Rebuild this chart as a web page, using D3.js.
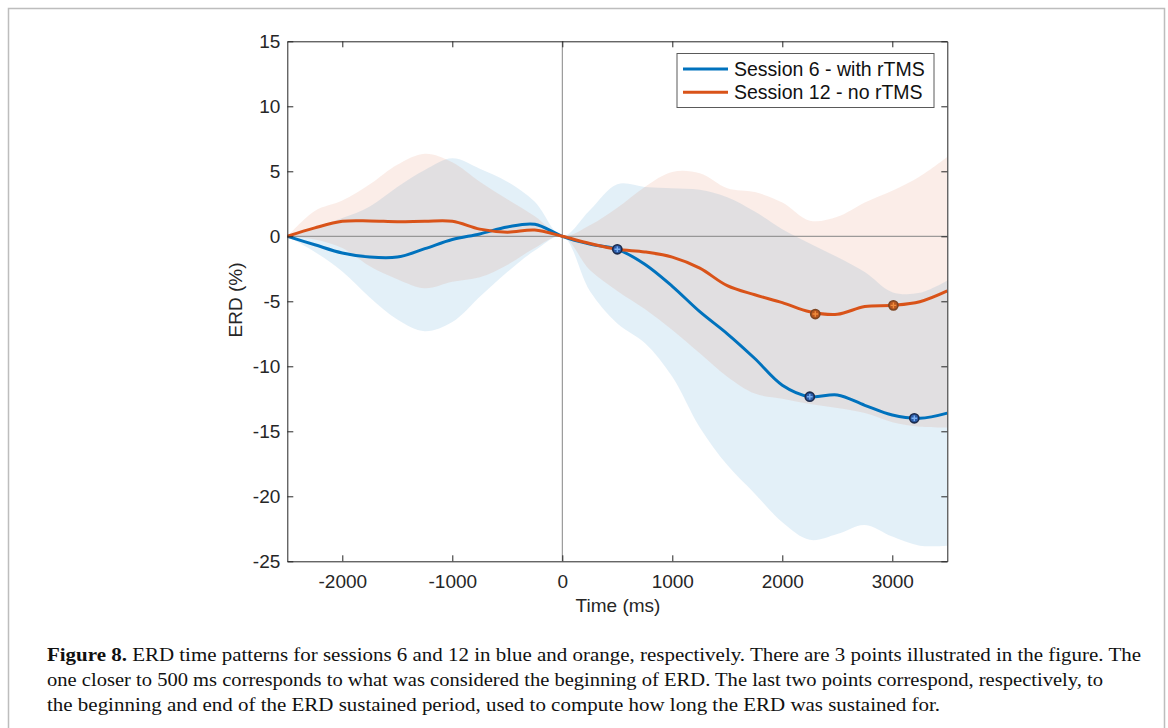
<!DOCTYPE html>
<html>
<head>
<meta charset="utf-8">
<script src="https://cdn.jsdelivr.net/npm/d3@7"></script>
<style>
html,body{margin:0;padding:0;background:#fff;}
svg{display:block;}
</style>
</head>
<body>
<svg id="chart" width="1168" height="728"></svg>
<script>
// ---- data ----
const time = [-2500,-2250,-2000,-1750,-1500,-1250,-1000,-750,-500,-250,0,250,500,750,1000,1250,1500,1750,2000,2250,2500,2750,3000,3250,3500];

const s6Mean  = [0,-0.65,-1.28,-1.6,-1.6,-0.95,-0.25,0.18,0.72,0.93,0,-0.6,-1.0,-2.15,-3.85,-5.8,-7.5,-9.4,-11.45,-12.34,-12.2,-13.0,-13.75,-14.0,-13.6];
const s6Upper = [0,0.7,1.4,2.3,3.8,5.1,6.0,5.2,4.2,2.65,0,2.0,4.0,3.8,3.7,3.58,3.0,1.9,0.55,-0.55,-1.6,-2.75,-4.3,-4.35,-3.4];
const s6Lower = [0,-1.2,-2.7,-4.7,-6.4,-7.3,-6.6,-4.65,-2.75,-1.1,0,-4.2,-6.7,-8.2,-10.8,-14.7,-17.6,-19.8,-22.0,-23.35,-22.9,-22.2,-23.1,-23.8,-23.8];

const s12Mean  = [0,0.65,1.15,1.18,1.12,1.15,1.15,0.55,0.32,0.48,0,-0.55,-1.0,-1.2,-1.6,-2.45,-3.8,-4.5,-5.1,-5.8,-6.0,-5.4,-5.31,-5.03,-4.2];
const s12Upper = [0,1.95,2.75,4.0,5.5,6.35,5.7,4.2,2.85,1.55,0,0.85,2.2,3.8,4.95,4.85,3.7,3.4,2.6,1.2,1.5,2.6,3.5,4.6,6.1];
const s12Lower = [0,-0.25,-0.9,-2.3,-3.3,-4.0,-3.5,-3.15,-2.2,-0.9,0,-2.6,-4.2,-5.6,-7.2,-9.0,-10.8,-12.1,-12.5,-12.9,-13.2,-13.6,-14.3,-14.65,-14.7];

const s6MarkT  = [500, 2250, 3200];
const s6MarkV  = [-1.0, -12.34, -14.0];
const s12MarkT = [2300, 3010];
const s12MarkV = [-5.98, -5.31];

const xTicks = [-2000,-1000,0,1000,2000,3000];
const yTicks = [-25,-20,-15,-10,-5,0,5,10,15];
const seriesNames = ["Session 6 - with rTMS", "Session 12 - no rTMS"];
const captionBold = "Figure 8.";
const captionLines = [
  " ERD time patterns for sessions 6 and 12 in blue and orange, respectively. There are 3 points illustrated in the figure. The",
  "one closer to 500 ms corresponds to what was considered the beginning of ERD. The last two points correspond, respectively, to",
  "the beginning and end of the ERD sustained period, used to compute how long the ERD was sustained for."
];

// ---- layout ----
const svg = d3.select("#chart");
const L = 287.3, R = 947.3, T = 41.3, B = 561.3;
const blue = "#0072BD", orange = "#D95319";
const x = d3.scaleLinear().domain([-2500, 3500]).range([L, R]);
const y = d3.scaleLinear().domain([-25, 15]).range([B, T]);
const fontSans = "'Liberation Sans', Arial, Helvetica, sans-serif";

// frame
svg.append("path")
  .attr("d", `M8.5,728 L8.5,8.5 L1164.5,8.5 L1164.5,728`)
  .attr("fill", "none").attr("stroke", "#bdbdbd").attr("stroke-width", 1.5);

const g = svg.append("g");
const clip = svg.append("defs").append("clipPath").attr("id", "pc");
clip.append("rect").attr("x", L).attr("y", T).attr("width", R - L).attr("height", B - T);

const plot = g.append("g").attr("clip-path", "url(#pc)");
const curve = d3.curveCatmullRom.alpha(0.5);

const area = (up, lo) => d3.area().x((d, i) => x(time[i])).y0((d, i) => y(lo[i])).y1((d, i) => y(up[i])).curve(curve)(time);
const line = (vals) => d3.line().x((d, i) => x(time[i])).y((d, i) => y(vals[i])).curve(curve)(time);

plot.append("path").attr("d", area(s6Upper, s6Lower)).attr("fill", blue).attr("fill-opacity", 0.11);
plot.append("path").attr("d", area(s12Upper, s12Lower)).attr("fill", orange).attr("fill-opacity", 0.1);

// zero lines
plot.append("line").attr("x1", L).attr("x2", R).attr("y1", y(0)).attr("y2", y(0)).attr("stroke", "#858585").attr("stroke-width", 1);
plot.append("line").attr("x1", x(0)).attr("x2", x(0)).attr("y1", T).attr("y2", B).attr("stroke", "#858585").attr("stroke-width", 1);

plot.append("path").attr("d", line(s6Mean)).attr("fill", "none").attr("stroke", blue).attr("stroke-width", 3);
plot.append("path").attr("d", line(s12Mean)).attr("fill", "none").attr("stroke", orange).attr("stroke-width", 3);

function markers(ts, vs, fill, edge, plus) {
  ts.forEach((t, i) => {
    const cx = x(t), cy = y(vs[i]);
    g.append("circle").attr("cx", cx).attr("cy", cy).attr("r", 4.6)
      .attr("fill", fill).attr("stroke", edge).attr("stroke-width", 1.6);
    g.append("path").attr("d", `M${cx-2.8},${cy}H${cx+2.8}M${cx},${cy-2.8}V${cy+2.8}`)
      .attr("stroke", plus).attr("stroke-width", 1.4);
  });
}
markers(s6MarkT, s6MarkV, "#2c5ca8", "#1c2b4c", "#79aef0");
markers(s12MarkT, s12MarkV, "#b8561e", "#7e4622", "#f08c3c");

// axes
const axCol = "#262626";
function styleAxis(sel) {
  sel.select(".domain").attr("stroke", axCol).attr("stroke-width", 1);
  sel.selectAll(".tick line").attr("stroke", axCol).attr("stroke-width", 1);
  sel.selectAll("text").attr("fill", axCol).attr("font-family", fontSans).attr("font-size", 19);
}
const xb = g.append("g").attr("transform", `translate(0,${B})`)
  .call(d3.axisBottom(x).tickValues(xTicks).tickSizeInner(-6).tickSizeOuter(0).tickPadding(13).tickFormat(d3.format("d")));
styleAxis(xb);
const xt = g.append("g").attr("transform", `translate(0,${T})`)
  .call(d3.axisTop(x).tickValues(xTicks).tickSizeInner(-6).tickSizeOuter(0).tickFormat(""));
styleAxis(xt);
const yl = g.append("g").attr("transform", `translate(${L},0)`)
  .call(d3.axisLeft(y).tickValues(yTicks).tickSizeInner(-6).tickSizeOuter(0).tickPadding(7).tickFormat(d3.format("d")));
styleAxis(yl);
const yr = g.append("g").attr("transform", `translate(${R},0)`)
  .call(d3.axisRight(y).tickValues(yTicks).tickSizeInner(-6).tickSizeOuter(0).tickFormat(""));
styleAxis(yr);
// hyphen-minus like MATLAB
g.selectAll(".tick text").text(function(){ return d3.select(this).text().replace("\u2212", "-"); });

// axis labels
g.append("text").attr("x", 618).attr("y", 612).attr("text-anchor", "middle")
  .attr("font-family", fontSans).attr("font-size", 19).attr("fill", axCol).text("Time (ms)");
g.append("text").attr("transform", "translate(242,300) rotate(-90)").attr("text-anchor", "middle")
  .attr("font-family", fontSans).attr("font-size", 19).attr("fill", axCol).text("ERD (%)");

// legend
const lg = g.append("g");
lg.append("rect").attr("x", 677).attr("y", 53.5).attr("width", 257).attr("height", 54)
  .attr("fill", "#fff").attr("stroke", "#5a5a5a").attr("stroke-width", 1);
[blue, orange].forEach((c, i) => {
  const yy = 69 + i * 23.3;
  lg.append("line").attr("x1", 683).attr("x2", 728).attr("y1", yy).attr("y2", yy).attr("stroke", c).attr("stroke-width", 3);
  lg.append("text").attr("x", 734).attr("y", yy + 6.8).attr("font-family", fontSans).attr("font-size", 19.5)
    .attr("fill", "#111").text(seriesNames[i]);
});

// caption
const capFont = "'Liberation Serif', 'Times New Roman', serif";
const capW = [1094, 1056, 893];
const capY = [661, 686, 711];
captionLines.forEach((ln, i) => {
  const t = svg.append("text").attr("x", 47).attr("y", capY[i]).attr("font-family", capFont)
    .attr("font-size", 18).attr("fill", "#111")
    .attr("textLength", capW[i]).attr("lengthAdjust", "spacingAndGlyphs");
  if (i === 0) t.append("tspan").attr("font-weight", "bold").text(captionBold);
  t.append("tspan").text(ln);
});
</script>
</body>
</html>
